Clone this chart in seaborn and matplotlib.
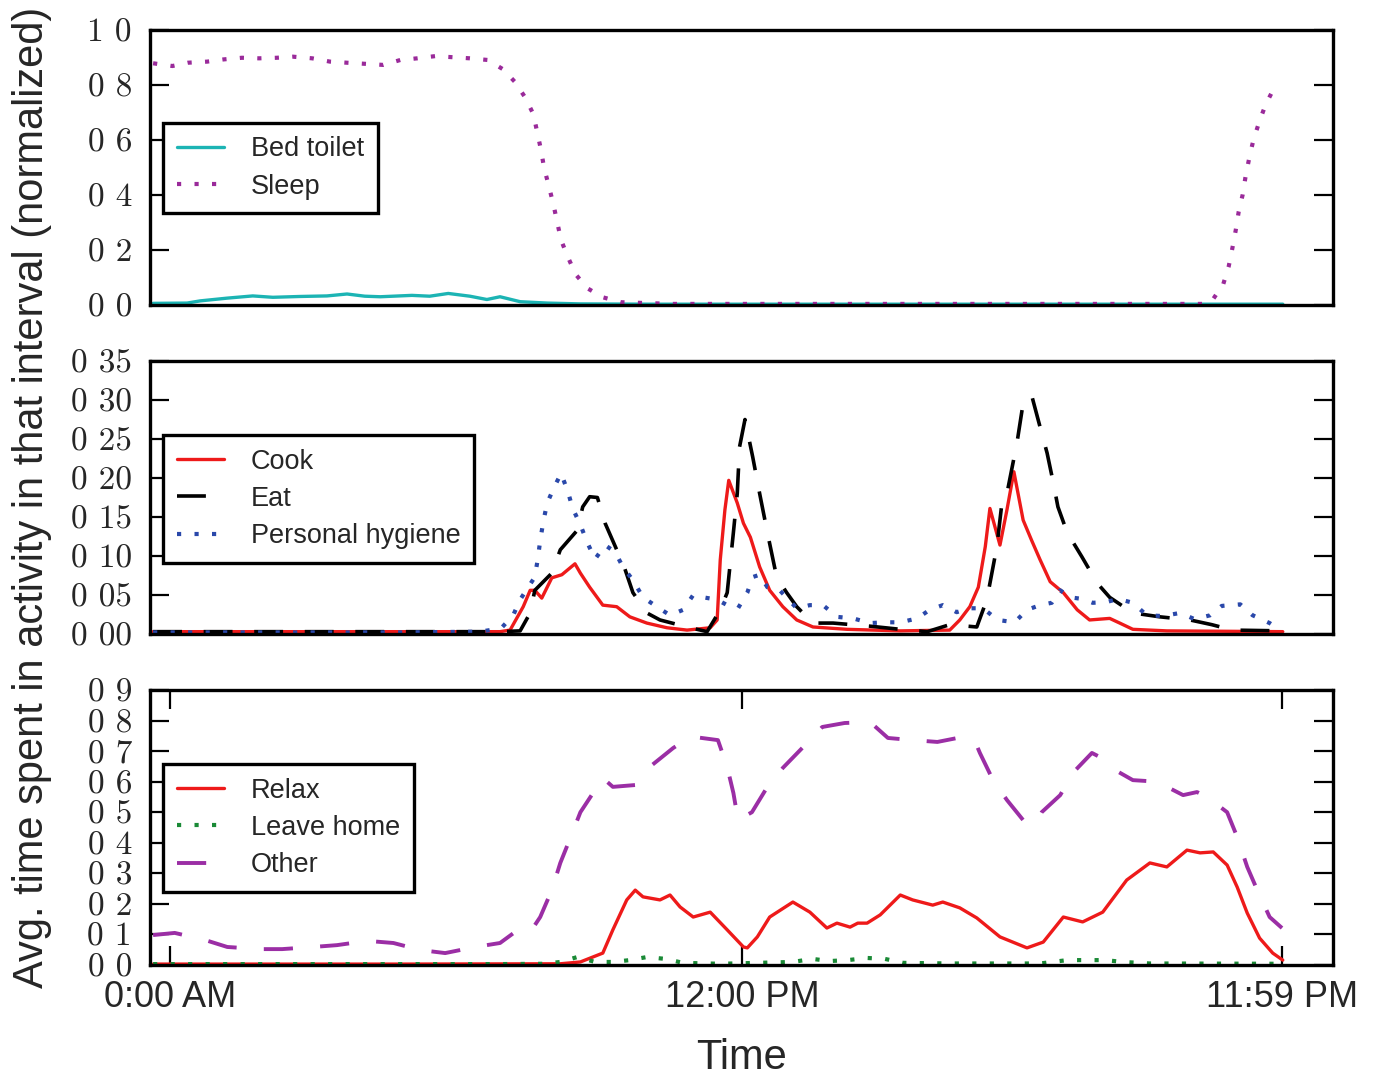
import numpy as np
import matplotlib
matplotlib.use("Agg")
import matplotlib.pyplot as plt
import seaborn as sns

# ---------------- data (time in minutes since midnight) ----------------
sleep_t = [-22, 3, 23, 48, 69, 93, 115, 138, 159, 184, 207, 229, 276, 298, 320, 343, 366, 388, 411,
           431, 446, 459, 470, 475, 480, 484, 490, 496, 501, 506, 515, 525, 540, 560, 584, 650, 900,
           1100, 1340, 1350, 1363, 1370, 1375, 1379, 1383, 1388, 1392, 1397, 1402, 1410, 1418, 1429]
sleep_v = [0.879, 0.869, 0.881, 0.885, 0.893, 0.899, 0.897, 0.899, 0.903, 0.897, 0.885, 0.881, 0.873,
           0.891, 0.897, 0.905, 0.901, 0.897, 0.891, 0.857, 0.812, 0.757, 0.695, 0.630, 0.564, 0.499,
           0.434, 0.367, 0.301, 0.236, 0.173, 0.111, 0.061, 0.028, 0.010, 0.004, 0.004, 0.004, 0.004,
           0.022, 0.076, 0.14, 0.21, 0.27, 0.34, 0.40, 0.47, 0.54, 0.60, 0.67, 0.73, 0.79]

bed_t = [-22, 22, 39, 74, 107, 133, 168, 203, 229, 252, 272, 313, 336, 360, 388, 410, 427, 453, 488,
         531, 621, 900, 1200, 1440]
bed_v = [0.006, 0.007, 0.015, 0.025, 0.033, 0.028, 0.031, 0.033, 0.040, 0.032, 0.030, 0.035, 0.032,
         0.042, 0.032, 0.020, 0.030, 0.012, 0.007, 0.004, 0.003, 0.003, 0.003, 0.003]

cook_t = [-22, 39, 298, 427, 440, 457, 466, 472, 481, 494, 507, 524, 531, 543, 560, 578, 595, 617,
          643, 669, 699, 708, 712, 718, 723, 734, 742, 751, 763, 776, 793, 811, 832, 876, 945, 1009,
          1022, 1035, 1046, 1055, 1061, 1074, 1083, 1092, 1104, 1115, 1126, 1139, 1156, 1174, 1190,
          1216, 1229, 1246, 1290, 1440]
cook_v = [0.003, 0.003, 0.003, 0.003, 0.005, 0.035, 0.056, 0.056, 0.046, 0.072, 0.076, 0.090, 0.078,
          0.060, 0.037, 0.035, 0.022, 0.014, 0.008, 0.005, 0.008, 0.018, 0.095, 0.159, 0.197, 0.168,
          0.142, 0.124, 0.086, 0.056, 0.035, 0.018, 0.009, 0.006, 0.004, 0.005, 0.018, 0.035, 0.060,
          0.112, 0.161, 0.114, 0.159, 0.208, 0.146, 0.120, 0.095, 0.067, 0.053, 0.031, 0.018, 0.020,
          0.014, 0.006, 0.004, 0.003]

eat_t = [-22, 200, 427, 453, 466, 472, 494, 505, 527, 534, 543, 553, 563, 578, 586, 599, 617, 634,
         669, 695, 712, 721, 729, 734, 737, 744, 754, 763, 773, 785, 798, 811, 832, 858, 906, 945,
         980, 1009, 1044, 1057, 1070, 1077, 1083, 1096, 1104, 1115, 1126, 1135, 1143, 1149, 1161,
         1180, 1200, 1216, 1246, 1281, 1320, 1348, 1375, 1440]
eat_v = [0.003, 0.003, 0.003, 0.004, 0.027, 0.056, 0.078, 0.108, 0.133, 0.163, 0.176, 0.175, 0.142,
         0.108, 0.091, 0.053, 0.027, 0.018, 0.009, 0.003, 0.031, 0.053, 0.130, 0.180, 0.240, 0.275,
         0.227, 0.180, 0.130, 0.073, 0.053, 0.035, 0.014, 0.014, 0.010, 0.006, 0.003, 0.012, 0.009,
         0.044, 0.112, 0.172, 0.180, 0.245, 0.296, 0.306, 0.265, 0.232, 0.194, 0.163, 0.130, 0.099,
         0.065, 0.047, 0.027, 0.022, 0.018, 0.012, 0.005, 0.004]

hyg_t = [-22, 298, 401, 414, 430, 444, 453, 472, 476, 479, 483, 488, 497, 506, 515, 521, 531, 540,
         550, 563, 576, 586, 599, 612, 630, 647, 664, 677, 690, 708, 721, 735, 747, 754, 763, 773,
         789, 811, 828, 845, 863, 884, 906, 925, 945, 967, 983, 1000, 1018, 1035, 1052, 1071, 1093,
         1109, 1126, 1141, 1152, 1165, 1180, 1194, 1212, 1227, 1246, 1264, 1285, 1307, 1326, 1346,
         1361, 1385, 1401, 1423, 1432]
hyg_v = [0.002, 0.002, 0.003, 0.005, 0.009, 0.024, 0.044, 0.073, 0.097, 0.120, 0.144, 0.168, 0.188,
         0.206, 0.182, 0.161, 0.140, 0.117, 0.096, 0.114, 0.105, 0.086, 0.069, 0.047, 0.035, 0.024,
         0.031, 0.050, 0.047, 0.044, 0.037, 0.033, 0.053, 0.073, 0.076, 0.060, 0.056, 0.033, 0.037,
         0.037, 0.022, 0.020, 0.014, 0.015, 0.015, 0.020, 0.031, 0.037, 0.028, 0.033, 0.033, 0.018,
         0.015, 0.031, 0.037, 0.040, 0.056, 0.047, 0.045, 0.040, 0.041, 0.045, 0.040, 0.024, 0.023,
         0.027, 0.019, 0.024, 0.036, 0.038, 0.024, 0.014, 0.008]

relax_t = [-22, 298, 505, 531, 547, 560, 573, 591, 602, 612, 634, 647, 660, 677, 699, 721, 742, 747,
           760, 776, 806, 828, 850, 863, 880, 890, 902, 919, 945, 961, 987, 1000, 1022, 1044, 1074,
           1109, 1130, 1156, 1181, 1207, 1238, 1268, 1290, 1316, 1333, 1350, 1368, 1381, 1394, 1410,
           1427, 1440]
relax_v = [0.003, 0.003, 0.004, 0.010, 0.026, 0.039, 0.115, 0.213, 0.245, 0.223, 0.213, 0.229, 0.190,
           0.157, 0.173, 0.115, 0.059, 0.056, 0.092, 0.157, 0.206, 0.173, 0.121, 0.137, 0.124, 0.137,
           0.137, 0.164, 0.229, 0.213, 0.196, 0.206, 0.187, 0.154, 0.092, 0.056, 0.075, 0.157, 0.141,
           0.173, 0.278, 0.334, 0.321, 0.376, 0.367, 0.370, 0.327, 0.255, 0.170, 0.088, 0.039, 0.016]

leave_t = [-22, 427, 485, 505, 527, 550, 573, 595, 617, 641, 664, 712, 760, 806, 831, 854, 877, 902,
           925, 949, 1009, 1126, 1161, 1210, 1233, 1268, 1440]
leave_v = [0.003, 0.003, 0.004, 0.010, 0.026, 0.010, 0.010, 0.016, 0.026, 0.020, 0.007, 0.004, 0.007,
           0.010, 0.020, 0.013, 0.016, 0.023, 0.020, 0.007, 0.005, 0.005, 0.016, 0.016, 0.010, 0.005,
           0.004]

other_t = [-22, 6, 45, 74, 116, 145, 185, 216, 255, 289, 324, 356, 395, 427, 455, 468, 479, 494, 505,
           518, 531, 550, 560, 573, 602, 624, 651, 673, 679, 709, 721, 729, 735, 753, 773, 793, 818,
           844, 873, 906, 929, 961, 993, 1025, 1042, 1048, 1065, 1083, 1106, 1119, 1128, 1152, 1168,
           1193, 1203, 1216, 1246, 1277, 1311, 1329, 1342, 1368, 1381, 1394, 1407, 1423, 1439]
other_v = [0.098, 0.105, 0.082, 0.059, 0.052, 0.052, 0.059, 0.065, 0.079, 0.072, 0.049, 0.039, 0.059,
           0.072, 0.124, 0.115, 0.157, 0.245, 0.334, 0.416, 0.500, 0.573, 0.612, 0.583, 0.589, 0.655,
           0.710, 0.746, 0.746, 0.736, 0.648, 0.563, 0.475, 0.500, 0.583, 0.645, 0.710, 0.779, 0.792,
           0.795, 0.743, 0.736, 0.730, 0.746, 0.730, 0.694, 0.605, 0.540, 0.468, 0.458, 0.500, 0.556,
           0.628, 0.694, 0.681, 0.648, 0.605, 0.600, 0.556, 0.566, 0.550, 0.500, 0.419, 0.321, 0.245,
           0.157, 0.121]

x_ticks = [0, 740, 1439]
x_ticklabels = ["0:00 AM", "12:00 PM", "11:59 PM"]
y1_ticks = [0.0, 0.2, 0.4, 0.6, 0.8, 1.0]
y1_labels = ["0 0", "0 2", "0 4", "0 6", "0 8", "1 0"]
y2_ticks = [0.0, 0.05, 0.10, 0.15, 0.20, 0.25, 0.30, 0.35]
y2_labels = ["0 00", "0 05", "0 10", "0 15", "0 20", "0 25", "0 30", "0 35"]
y3_ticks = [0.0, 0.1, 0.2, 0.3, 0.4, 0.5, 0.6, 0.7, 0.8, 0.9]
y3_labels = ["0 0", "0 1", "0 2", "0 3", "0 4", "0 5", "0 6", "0 7", "0 8", "0 9"]

# ---------------- figure ----------------
sns.set_style("white")
plt.rcParams["font.family"] = ["Liberation Sans", "DejaVu Sans"]

W, H = 1378, 1081
fig = plt.figure(figsize=(W / 100, H / 100), dpi=100)
L, R = 150 / W, 1333 / W


def rect(top, bot):
    return [L, 1 - bot / H, R - L, (bot - top) / H]


ax1 = fig.add_axes(rect(30, 305))
ax2 = fig.add_axes(rect(361, 634))
ax3 = fig.add_axes(rect(690, 965))

dot = (0, (1, 3.2))
DOT_LW = 3.0
SOLID_LW = 2.4

sns.lineplot(x=bed_t, y=bed_v, ax=ax1, color="#1cb4b4", linewidth=SOLID_LW, label="Bed toilet")
sns.lineplot(x=sleep_t, y=sleep_v, ax=ax1, color="#9a2a9a", linewidth=DOT_LW, linestyle=dot,
             label="Sleep")

sns.lineplot(x=cook_t, y=cook_v, ax=ax2, color="#ee1a1a", linewidth=SOLID_LW, label="Cook")
sns.lineplot(x=eat_t, y=eat_v, ax=ax2, color="black", linewidth=2.6, linestyle=(0, (8, 6)),
             label="Eat")
sns.lineplot(x=hyg_t, y=hyg_v, ax=ax2, color="#2a48aa", linewidth=DOT_LW, linestyle=dot,
             label="Personal hygiene")

sns.lineplot(x=relax_t, y=relax_v, ax=ax3, color="#ee1a1a", linewidth=SOLID_LW, label="Relax")
sns.lineplot(x=leave_t, y=leave_v, ax=ax3, color="#1a8a36", linewidth=DOT_LW, linestyle=dot,
             label="Leave home")
sns.lineplot(x=other_t, y=other_v, ax=ax3, color="#9b2ea5", linewidth=2.8, linestyle=(0, (7.5, 7)),
             label="Other")

specs = [
    (ax1, (0, 1.0), y1_ticks, y1_labels, 0.662),
    (ax2, (0, 0.35), y2_ticks, y2_labels, 0.729),
    (ax3, (0, 0.9), y3_ticks, y3_labels, 0.731),
]
for ax, ylim, yt, yl, legy in specs:
    ax.set_xlim(-26, 1505)
    ax.set_ylim(*ylim)
    ax.set_xlabel("")
    ax.set_ylabel("")
    for s in ax.spines.values():
        s.set_visible(True)
        s.set_linewidth(2.4)
        s.set_color("black")
    ax.set_yticks(yt)
    ax.set_yticklabels(yl, fontfamily="cmr10", fontsize=24)
    ax.tick_params(axis="y", which="both", direction="in", length=14, width=1.6, left=True,
                   right=True, pad=13, color="black")
    leg = ax.legend(loc="upper left", bbox_to_anchor=(0.011, legy), fontsize=19.5, frameon=True,
                    fancybox=False, edgecolor="black", framealpha=1, borderpad=0.5,
                    labelspacing=0.42, handlelength=1.75, handletextpad=1.0, borderaxespad=0)
    leg.get_frame().set_linewidth(2.4)

ax1.set_xticks([])
ax2.set_xticks([])
ax3.set_xticks(x_ticks)
ax3.set_xticklabels(x_ticklabels, fontsize=26)
ax3.tick_params(axis="x", direction="in", length=14, width=1.6, top=True, bottom=True, pad=11,
                color="black")

fig.text(0.023, 0.54, "Avg. time spent in activity in that interval (normalized)", rotation=90,
         ha="center", va="center", fontsize=30)
fig.text(0.538, 0.021, "Time", ha="center", va="center", fontsize=30)

fig.savefig("out.png", dpi=100)
